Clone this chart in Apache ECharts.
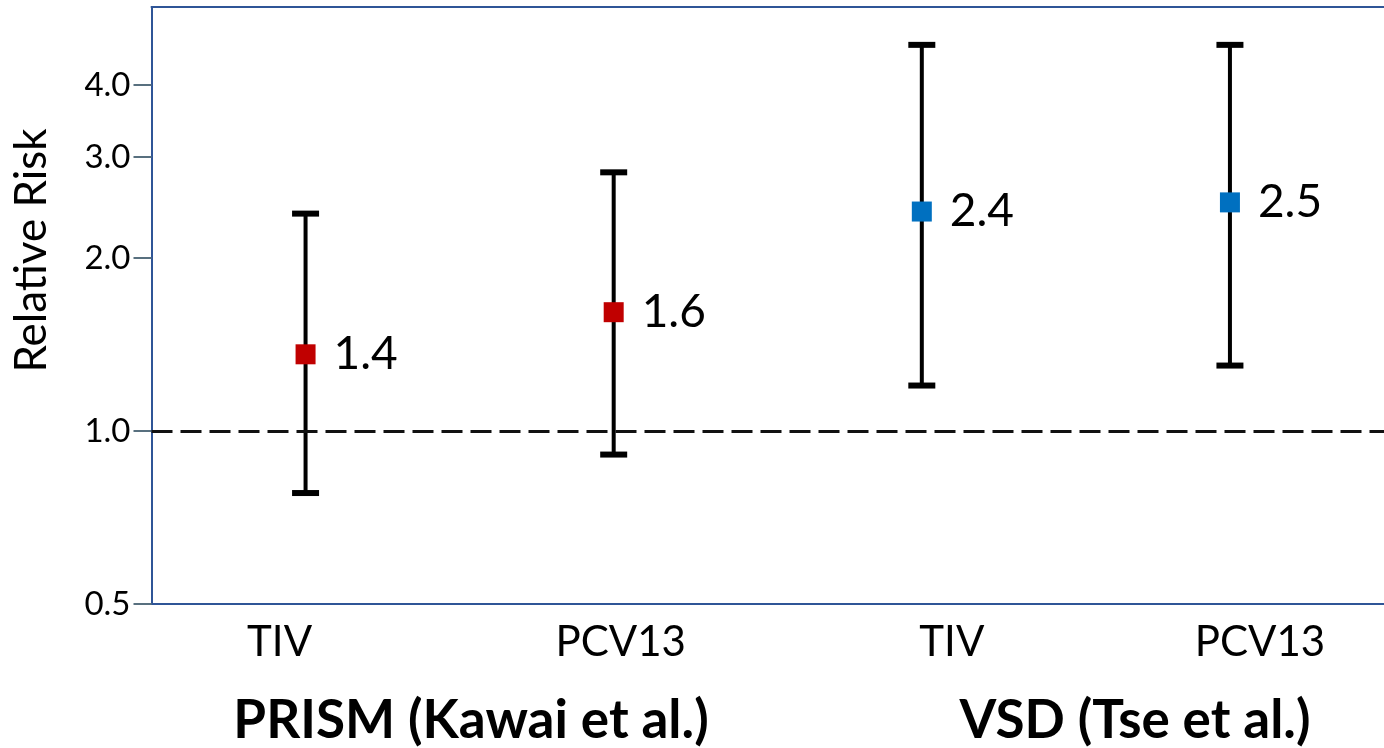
<!DOCTYPE html>
<html>
<head>
<meta charset="utf-8">
<script src="https://cdn.jsdelivr.net/npm/echarts@6/dist/echarts.min.js"></script>
<style>
html, body { margin: 0; padding: 0; background: #fff; }
#main { width: 1384px; height: 748px; }
</style>
</head>
<body>
<div id="main"></div>
<script>
// data
var categories = ['TIV', 'PCV13', 'TIV', 'PCV13'];
var studies = ['PRISM (Kawai et al.)', 'VSD (Tse et al.)'];
var studyOf = [0, 0, 1, 1];
var relRisk = [1.36, 1.61, 2.41, 2.50];
var ciLow = [0.78, 0.91, 1.20, 1.30];
var ciHigh = [2.39, 2.82, 4.70, 4.70];
var yTicks = [0.5, 1, 2, 3, 4];
var refValue = 1;

var FONT = 'Lato';
var studyColors = ['#C00000', '#0070C0'];
var axisBlue = '#2F5597';
// small sideways nudges of the category labels (px), as in the original slide
var catShift = [-26, 7, 30, 30];
// centre x of the study captions
var studyCenter = [471, 1135];

var dom = document.getElementById('main');
var myChart = echarts.init(dom);

var rich = {};
catShift.forEach(function (s, i) {
    rich['c' + i] = {
        fontFamily: FONT, fontSize: 42, color: '#000',
        padding: s >= 0 ? [0, 0, 0, 2 * s] : [0, -2 * s, 0, 0]
    };
});

var option = {
    animation: false,
    grid: {
        left: 151.5, top: 7, width: 1236, height: 597,
        show: false
    },
    xAxis: [
        {
            type: 'category',
            data: categories,
            axisLine: { show: true, lineStyle: { color: axisBlue, width: 2 } },
            axisTick: { show: false },
            axisLabel: {
                margin: 17,
                formatter: function (v, i) { return '{c' + i + '|' + v + '}'; },
                rich: rich
            },
            splitLine: { show: false }
        },
        {
            // top frame line only
            type: 'category',
            position: 'top',
            data: categories,
            axisLine: { show: true, lineStyle: { color: axisBlue, width: 2 } },
            axisTick: { show: false },
            axisLabel: { show: false },
            splitLine: { show: false }
        }
    ],
    yAxis: {
        type: 'log',
        logBase: 2,
        min: 0.5,
        max: 5.47,
        name: 'Relative Risk',
        nameLocation: 'middle',
        nameRotate: 90,
        nameGap: 98,
        nameTextStyle: { fontFamily: FONT, fontSize: 44, color: '#000', padding: [0, 0, 0, 110] },
        axisLine: { show: true, lineStyle: { color: axisBlue, width: 2 } },
        axisTick: { show: true, length: 18, customValues: yTicks, lineStyle: { color: '#58707F', width: 2 } },
        axisLabel: {
            customValues: yTicks,
            margin: 21,
            fontFamily: FONT, fontSize: 33, color: '#000',
            formatter: function (v) { return Number(v).toFixed(1); }
        },
        splitLine: { show: false },
        minorTick: { show: false }
    },
    series: [
        {
            type: 'custom',
            name: 'CI',
            data: categories.map(function (c, i) { return [i, ciLow[i], ciHigh[i]]; }),
            encode: { x: 0, y: [1, 2] },
            renderItem: function (params, api) {
                var x = api.value(0);
                var lo = api.coord([x, api.value(1)]);
                var hi = api.coord([x, api.value(2)]);
                var half = 13.5;
                return {
                    type: 'group',
                    children: [
                        { type: 'line', shape: { x1: lo[0], y1: lo[1], x2: hi[0], y2: hi[1] }, style: { stroke: '#000', lineWidth: 4 } },
                        { type: 'line', shape: { x1: lo[0] - half, y1: lo[1], x2: lo[0] + half, y2: lo[1] }, style: { stroke: '#000', lineWidth: 6 } },
                        { type: 'line', shape: { x1: hi[0] - half, y1: hi[1], x2: hi[0] + half, y2: hi[1] }, style: { stroke: '#000', lineWidth: 6 } }
                    ]
                };
            },
            z: 2
        },
        {
            type: 'scatter',
            name: 'RR',
            symbol: 'rect',
            symbolSize: 20,
            itemStyle: { opacity: 1 },
            data: relRisk.map(function (v, i) {
                return { value: [i, v], itemStyle: { color: studyColors[studyOf[i]], opacity: 1 } };
            }),
            label: {
                show: true,
                position: 'right',
                distance: 18,
                fontFamily: FONT, fontSize: 46, color: '#000',
                formatter: function (p) { return p.value[1].toFixed(1); }
            },
            markLine: {
                silent: true,
                symbol: 'none',
                label: { show: false },
                lineStyle: { color: '#111', width: 3, type: [21, 8], opacity: 1 },
                data: [{ yAxis: refValue }]
            },
            z: 3
        }
    ],
    graphic: studies.map(function (s, i) {
        return {
            type: 'text', x: studyCenter[i], y: 721, silent: true,
            style: {
                text: s, fontFamily: FONT, fontWeight: 'bold', fontSize: 53, fill: '#000',
                align: 'center', verticalAlign: 'middle'
            }
        };
    })
};

if (option && typeof option === 'object') {
    myChart.setOption(option, true);
}
</script>
</body>
</html>
